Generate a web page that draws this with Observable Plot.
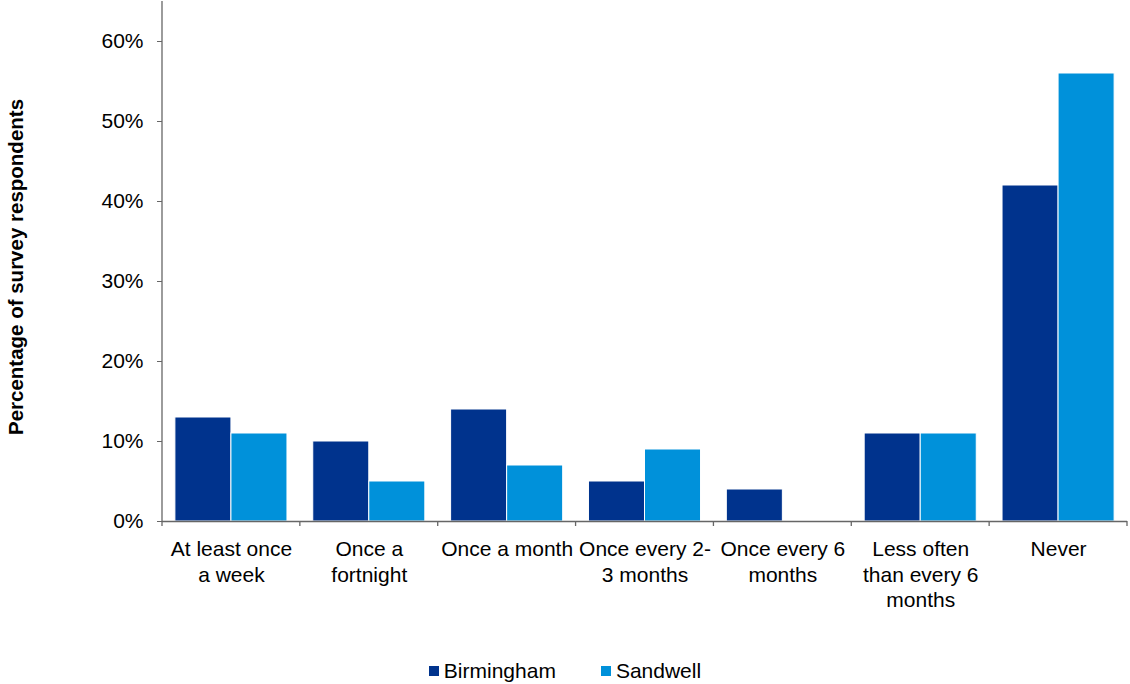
<!DOCTYPE html>
<html>
<head>
<meta charset="utf-8">
<script src="https://cdn.jsdelivr.net/npm/d3@7"></script>
<script src="https://cdn.jsdelivr.net/npm/@observablehq/plot@0.6"></script>
<style>
  body { margin: 0; background: #fff; font-family: "Liberation Sans", Arial, sans-serif; }
  #chart svg { display: block; }
  .legend { display: flex; justify-content: center; gap: 45px; padding-top: 19px; padding-left: 0; font-size: 21px; line-height: 24px; color: #000; }
  .legend .item { display: flex; align-items: center; }
  .legend .sw { width: 10px; height: 10px; margin-right: 5px; display: inline-block; }
</style>
</head>
<body>
<div id="chart"></div>
<script>
// Frequency categories (x facets) and their wrapped axis labels
const categories = [
  "At least once a week",
  "Once a fortnight",
  "Once a month",
  "Once every 2-3 months",
  "Once every 6 months",
  "Less often than every 6 months",
  "Never"
];
const categoryLabels = [
  "At least once\na week",
  "Once a\nfortnight",
  "Once a month",
  "Once every 2-\n3 months",
  "Once every 6\nmonths",
  "Less often\nthan every 6\nmonths",
  "Never"
];
const series = ["Birmingham", "Sandwell"];
const seriesColors = ["#00338D", "#0091DA"];
// Percentage of survey respondents
const birmingham = [13, 10, 14, 5, 4, 11, 42];
const sandwell = [11, 5, 7, 9, 0, 11, 56];
const yTicks = [0, 10, 20, 30, 40, 50, 60];

const rows = [];
categories.forEach((c, i) => {
  rows.push({freq: c, area: series[0], value: birmingham[i]});
  rows.push({freq: c, area: series[1], value: sandwell[i]});
});
const labelOf = new Map(categories.map((c, i) => [c, categoryLabels[i]]));

const W = 1130, H = 640;
const font = "'Liberation Sans', Arial, sans-serif";
const axisColor = "#666";

const chart = Plot.plot({
  width: W,
  height: H,
  marginLeft: 162,
  marginRight: 3,
  marginTop: 1,
  marginBottom: 119,
  style: {fontFamily: font, fontSize: "21px", color: "#000", background: "#fff"},
  fx: {domain: categories, padding: 0, round: false},
  x: {domain: series, paddingInner: 0, paddingOuter: 0.23, round: false, axis: null},
  y: {domain: [0, 65], axis: null},
  color: {domain: series, range: seriesColors},
  marks: [
    Plot.barY(rows, {fx: "freq", x: "area", y: "value", fill: "area", stroke: "#fff", strokeWidth: 1}),
    Plot.ruleY([0], {stroke: axisColor, strokeWidth: 1.3}),
    Plot.axisY({
      ticks: yTicks,
      tickFormat: d => d + "%",
      tickSize: 5,
      tickPadding: 14,
      stroke: axisColor,
      fill: "#000",
      fontSize: 21,
      label: null
    }),
    Plot.axisFx({
      anchor: "bottom",
      tickSize: 0,
      tickPadding: 17,
      tickFormat: d => labelOf.get(d),
      lineHeight: 1.2,
      fill: "#000",
      fontSize: 21,
      label: null
    })
  ]
});

// Vertical axis line, category boundary ticks and axis title
const svg = d3.select(chart);
const fx = chart.scale("fx");
const y = chart.scale("y");
const y0 = y.apply(0);
const yTop = y.apply(65);
const x0 = fx.apply(categories[0]);
const bw = fx.bandwidth;

svg.append("line")
  .attr("x1", x0).attr("x2", x0)
  .attr("y1", yTop).attr("y2", y0 + 5)
  .attr("stroke", axisColor).attr("stroke-width", 1.3);

const bounds = categories.map(c => fx.apply(c)).concat([fx.apply(categories[categories.length - 1]) + bw]);
svg.append("g").selectAll("line").data(bounds.slice(1)).join("line")
  .attr("x1", d => d).attr("x2", d => d)
  .attr("y1", y0).attr("y2", y0 + 5)
  .attr("stroke", axisColor).attr("stroke-width", 1.3);

svg.append("text")
  .attr("transform", `translate(15, ${(yTop + y0) / 2 + 6}) rotate(-90)`)
  .attr("text-anchor", "middle")
  .attr("dominant-baseline", "central")
  .attr("font-family", font)
  .attr("font-size", 20.5)
  .attr("font-weight", "bold")
  .attr("fill", "#000")
  .text("Percentage of survey respondents");

document.getElementById("chart").appendChild(chart);

// Legend
const legend = document.createElement("div");
legend.className = "legend";
series.forEach((s, i) => {
  const item = document.createElement("span");
  item.className = "item";
  const sw = document.createElement("span");
  sw.className = "sw";
  sw.style.background = seriesColors[i];
  item.appendChild(sw);
  item.appendChild(document.createTextNode(s));
  legend.appendChild(item);
});
document.body.appendChild(legend);
</script>
</body>
</html>
